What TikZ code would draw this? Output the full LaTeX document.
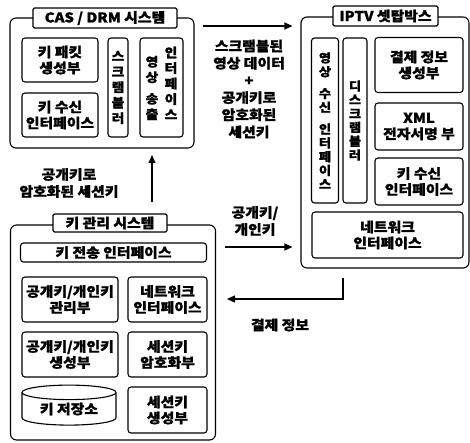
\documentclass[tikz,border=0pt]{standalone}
\usepackage{fontspec}
\setmainfont{Noto Sans CJK KR}[BoldFeatures={FakeStretch=1.1,FakeBold=1.2}]
\usetikzlibrary{shapes.geometric,arrows.meta}
\tikzset{
 every node/.style={font=\fontsize{13.5}{16}\selectfont\bfseries},
 bx/.style={draw, line width=1.1pt, rounded corners=3pt, fill=white, inner sep=0pt, align=center},
 outer/.style={draw, line width=1.1pt, rounded corners=6pt, inner sep=0pt},
 ttl/.style={draw, line width=1.1pt, rounded corners=1.5pt, fill=white, inner sep=0pt},
 lbl/.style={align=center, inner sep=0pt},
 vfont/.style={font=\fontsize{12.5}{15.5}\selectfont\bfseries},
 vfontb/.style={font=\fontsize{12}{13.8}\selectfont\bfseries},
 arr/.style={line width=1.2pt, -{Triangle[length=8pt,width=7pt]}}
}
\begin{document}
\begin{tikzpicture}[x=1pt,y=-1pt]
\useasboundingbox (0,0) rectangle (470,442);
% CAS / DRM
\node[outer, minimum width=184, minimum height=130] (cas) at (102,83) {};
\node[ttl, minimum width=144, minimum height=20] (casT) at (105,18) {CAS / DRM 시스템};
\node[bx, minimum width=76, minimum height=44] (kp) at (60,60) {키 패킷\\생성부};
\node[bx, minimum width=76, minimum height=44] (kr1) at (60,115) {키 수신\\인터페이스};
\node[bx, vfont, minimum width=20, minimum height=99] (scr) at (118,87.5) {스\\크\\램\\블\\러};
\node[bx, minimum width=43, minimum height=99] (vout) at (161.5,87.5) {};
\node[lbl, vfont] (vout1) at (152,88) {영\\상\\[6pt]송\\출};
\node[lbl, vfont] (vout2) at (171,83) {인\\터\\페\\이\\스};
% key management
\node[outer, minimum width=205, minimum height=215] (km) at (113,332.5) {};
\node[ttl, minimum width=114, minimum height=18] (kmT) at (110,223) {키 관리 시스템};
\node[bx, minimum width=186, minimum height=19] (kti) at (113.5,252.5) {키 전송 인터페이스};
\node[bx, minimum width=96, minimum height=45] (pkm) at (70,299.5) {공개키/개인키\\관리부};
\node[bx, minimum width=79, minimum height=45] (ni) at (167.5,299.5) {네트워크\\인터페이스};
\node[bx, minimum width=96, minimum height=45] (pkg) at (70,354.5) {공개키/개인키\\생성부};
\node[bx, minimum width=79, minimum height=45] (ske) at (167.5,354.5) {세션키\\암호화부};
\node[draw, line width=1.1pt, cylinder, shape border rotate=90, aspect=0.25, minimum width=94, minimum height=40, inner sep=0pt] (ks) at (69,409) {키 저장소};
\node[bx, minimum width=79, minimum height=46] (skg) at (167.5,410) {세션키\\생성부};
% IPTV
\node[outer, minimum width=168, minimum height=251] (ip) at (385,142.5) {};
\node[ttl, minimum width=105, minimum height=20] (ipT) at (385.5,16) {IPTV 셋탑박스};
\node[bx, vfontb, minimum width=27, minimum height=165] (vin) at (325,120.5) {영\\상\\[8pt]수\\신\\[8pt]인\\터\\페\\이\\스};
\node[bx, vfontb, minimum width=24, minimum height=165] (dsc) at (355,120.5) {디\\스\\크\\램\\블\\러};
\node[bx, minimum width=88, minimum height=55] (pay) at (419,65) {결제 정보\\생성부};
\node[bx, minimum width=88, minimum height=47] (xml) at (419,126.5) {XML\\전자서명 부};
\node[bx, minimum width=88, minimum height=47] (kr2) at (419,181.5) {키 수신\\인터페이스};
\node[bx, minimum width=151, minimum height=46] (net) at (387.5,235) {네트워크\\인터페이스};
% arrows
\coordinate (a1s) at (203,26);
\coordinate (a2s) at (225,247);
\coordinate (a3s) at (152,202);
\coordinate (a3e) at (152,155);
\coordinate (a4s) at (343,278);
\coordinate (a4m) at (343,299);
\coordinate (a4e) at (227,299);
\draw[arr, shorten >=8pt] (a1s) -- (a1s -| ip.west);
\draw[arr, shorten >=8pt] (a2s) -- (a2s -| ip.west);
\draw[arr] (a3s) -- (a3e);
\draw[arr] (a4s) -- (a4m) -- (a4e);
% labels
\node[lbl, font=\fontsize{13.5}{17.2}\selectfont\bfseries] (L1) at (249,89) {스크램블된\\영상 데이터\\+\\공개키로\\암호화된\\세션키};
\node[lbl, font=\fontsize{13.5}{17}\selectfont\bfseries] (L2) at (255,221) {공개키/\\개인키};
\node[lbl] (L3) at (280,325) {결제 정보};
\node[lbl, font=\fontsize{13.5}{17}\selectfont\bfseries] (L4) at (69,183) {공개키로\\암호화된 세션키};
\end{tikzpicture}
\end{document}
